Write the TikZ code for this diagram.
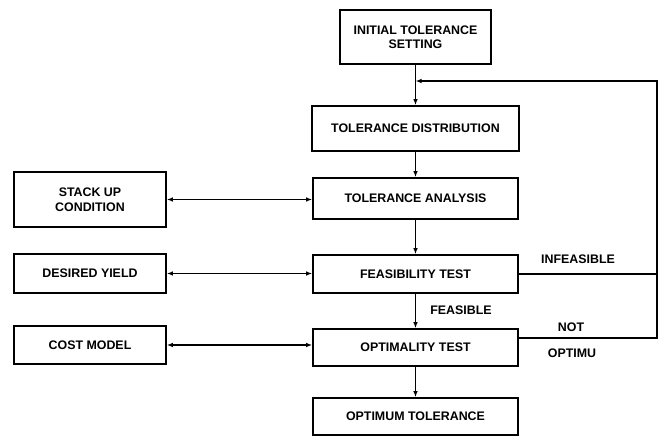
\documentclass[tikz,border=0pt]{standalone}
\usepackage{fontspec}
\setmainfont{Liberation Sans}
\usetikzlibrary{arrows.meta,calc}

\tikzset{
  stepbox/.style={draw, line width=1.6pt, align=center, inner sep=0pt,
    font=\fontsize{12.4}{14.5}\selectfont\bfseries},
  flowlabel/.style={font=\fontsize{12.4}{14.5}\selectfont\bfseries, inner sep=1pt},
  link/.style={line width=1.6pt, -{Latex[length=6pt,width=4.5pt]}},
  twoway/.style={line width=1.6pt, {Latex[length=6pt,width=4.5pt]}-{Latex[length=6pt,width=4.5pt]}}
}

\begin{document}
\begin{tikzpicture}[x=1pt, y=-1pt]
  % Fix the page to the picture size
  \useasboundingbox (0,0) rectangle (661,436);

  % Main column of steps
  \node[stepbox, minimum width=151pt, minimum height=54pt] (init) at (415.5,37) {INITIAL TOLERANCE\\SETTING};
  \node[stepbox, minimum width=207pt, minimum height=45pt] (dist) at (415.5,128.5) {TOLERANCE DISTRIBUTION};
  \node[stepbox, minimum width=205pt, minimum height=41pt] (analysis) at (415.5,198.5) {TOLERANCE ANALYSIS};
  \node[stepbox, minimum width=205pt, minimum height=38pt] (feas) at (415.5,274) {FEASIBILITY TEST};
  \node[stepbox, minimum width=205pt, minimum height=37pt] (optim) at (415.5,347.5) {OPTIMALITY TEST};
  \node[stepbox, minimum width=205pt, minimum height=37pt] (result) at (415.5,416.5) {OPTIMUM TOLERANCE};

  % Inputs on the left
  \node[stepbox, minimum width=152pt, minimum height=55pt] (stack) at (90,199.5) {STACK UP\\CONDITION};
  \node[stepbox, minimum width=152pt, minimum height=39pt] (yield) at (90,273.5) {DESIRED YIELD};
  \node[stepbox, minimum width=152pt, minimum height=38pt] (cost) at (90,345) {COST MODEL};

  % Feedback corners
  \coordinate (join) at (415.5,81);
  \coordinate (corner) at (657,81);
  \coordinate (notout) at ($(optim.north east)!0.25!(optim.south east)$);

  % Downward flow
  \draw[link] (init) -- (dist);
  \draw[link] (dist) -- (analysis);
  \draw[link] (analysis) -- (feas);
  \draw[link] (feas) -- (optim);
  \draw[link] (optim) -- (result);

  % Links to the inputs
  \draw[twoway] (stack.east) -- (stack.east -| analysis.west);
  \draw[twoway] (yield.east) -- (yield.east -| feas.west);
  \draw[twoway] (cost.east) -- (cost.east -| optim.west);

  % Loop back
  \draw[link] (notout) -| (corner) -- (join);
  \draw[line width=1.6pt] (feas.east) -- (feas.east -| corner);

  % Labels on the loop
  \node[flowlabel] (lblinf) at (578,259) {INFEASIBLE};
  \node[flowlabel] (lblfeas) at (461,310) {FEASIBLE};
  \node[flowlabel] (lblnot) at (571,327) {NOT};
  \node[flowlabel] (lblopt) at (572,353) {OPTIMU};
\end{tikzpicture}
\end{document}
